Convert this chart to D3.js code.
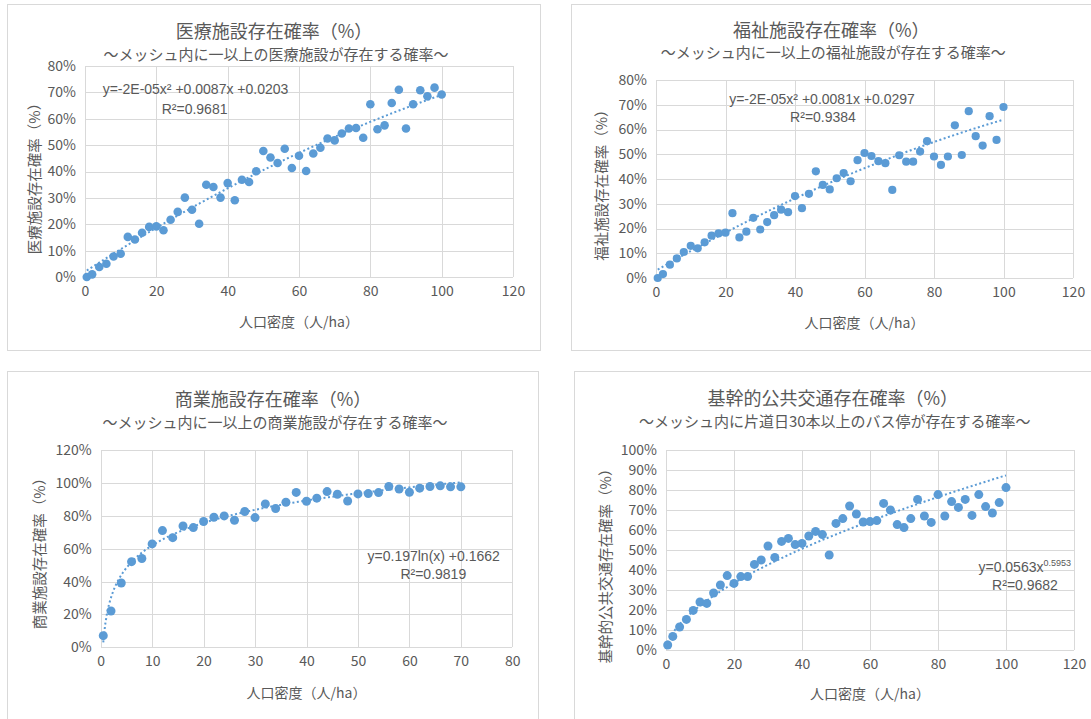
<!DOCTYPE html>
<html><head><meta charset="utf-8">
<script src="https://cdn.jsdelivr.net/npm/d3@7"></script>
<style>
html,body{margin:0;padding:0;background:#fff;}
text{font-family:"Noto Sans CJK JP","Noto Sans",sans-serif;fill:#595959;}
text.eq{font-family:"Liberation Sans","Noto Sans",sans-serif;}
</style></head>
<body>
<svg id="c" width="1091" height="719"></svg>
<script>
// ---------- DATA ----------
const medX = [0.5,2,4,6,8,10,12,14,16,18,20,22,24,26,28,30,32,34,36,38,40,42,44,46,48,50,52,54,56,58,60,62,64,66,68,70,72,74,76,78,80,82,84,86,88,90,92,94,96,98,100];
const medY = [0,1,3.8,5,7.8,8.8,15.2,14.2,16.8,19,19.2,17.7,21.7,24.7,30.1,25.5,20.2,35,34.1,30.1,35.6,29.1,36.9,36,40.1,47.8,45.3,43.2,48.6,41.3,46,40.2,46.8,49,52.5,51.8,54.4,56.3,56.5,52.8,65.5,56,57.5,66,71,56.3,65.5,70.8,68.5,71.8,69.2];
const medCoef = [-2e-5, 0.0087, 0.0203];

const welX = [0.5,2,4,6,8,10,12,14,16,18,20,22,24,26,28,30,32,34,36,38,40,42,44,46,48,50,52,54,56,58,60,62,64,66,68,70,72,74,76,78,80,82,84,86,88,90,92,94,96,98,100];
const welY = [0,1.6,5.4,7.9,10.5,13,12,14.4,17.1,18,18.3,26.2,16.4,18.7,24.3,19.6,22.6,25.4,27.6,26.6,33.1,28.2,34,43.1,37.6,35.8,40.3,42.4,39.1,47.6,50.5,49.3,47.2,46.4,35.6,49.6,47,47,51.1,55.3,49.1,45.7,49.1,61.7,49.7,67.4,57.3,53.5,65.4,55.8,69.1];
const welCoef = [-2e-5, 0.0081, 0.0297];

const comX = [0.5,2,4,6,8,10,12,14,16,18,20,22,24,26,28,30,32,34,36,38,40,42,44,46,48,50,52,54,56,58,60,62,64,66,68,70];
const comY = [7.1,22.1,39.1,52.1,54,62.9,71,66.7,73.8,72.8,76.5,79.1,79.9,77.3,82.6,78.9,87.2,84.4,88.2,94.2,88.8,90.7,94.7,93.1,89,93.3,93.5,94.1,97.8,96.3,94.3,96.8,97.8,98.2,97.6,97.6];
const comCoef = [0.197, 0.1662];

const busX = [0.5,2,4,6,8,10,12,14,16,18,20,22,24,26,28,30,32,34,36,38,40,42,44,46,48,50,52,54,56,58,60,62,64,66,68,70,72,74,76,78,80,82,84,86,88,90,92,94,96,98,100];
const busY = [2.5,6.8,11.5,15.3,19.8,24,23.3,28.5,32.5,37.2,33.3,36.7,36.7,42.8,45,52,46.3,54.3,55.8,52.7,53.3,57,59.3,57.7,47.5,63.3,65.7,72,68,64,64.2,64.7,73.3,70,62.7,61.2,65.7,75.3,67,63.8,77.7,67,74.2,71.3,75.3,67.3,77.7,71.7,68.5,73.7,81.2];
const busCoef = [0.0563, 0.5953];

const titles = ["医療施設存在確率（%）","福祉施設存在確率（%）","商業施設存在確率（%）","基幹的公共交通存在確率（%）"];
const subtitles = ["～メッシュ内に一以上の医療施設が存在する確率～","～メッシュ内に一以上の福祉施設が存在する確率～","～メッシュ内に一以上の商業施設が存在する確率～","～メッシュ内に片道日30本以上のバス停が存在する確率～"];
const yTitles = ["医療施設存在確率（%）","福祉施設存在確率（%）","商業施設存在確率（%）","基幹的公共交通存在確率（%）"];
const xTitle = "人口密度（人/ha）";
const xTicks1 = [0,20,40,60,80,100,120];
const xTicks3 = [0,10,20,30,40,50,60,70,80];
const yTicks1 = [0,10,20,30,40,50,60,70,80];
const yTicks3 = [0,20,40,60,80,100,120];
const yTicks4 = [0,10,20,30,40,50,60,70,80,90,100];
const eqTexts = [
  ["y=-2E-05x² +0.0087x +0.0203","R²=0.9681"],
  ["y=-2E-05x² +0.0081x +0.0297","R²=0.9384"],
  ["y=0.197ln(x) +0.1662","R²=0.9819"],
  ["y=0.0563x","0.5953","R²=0.9682"]
];

// ---------- TREND FUNCTIONS (from the displayed equations) ----------
const fPoly = c => x => c[0]*x*x + c[1]*x + c[2];
const fLog = c => x => c[0]*Math.log(x) + c[1];
const fPow = c => x => c[0]*Math.pow(x, c[1]);

// ---------- LAYOUT ----------
const panels = [
  {box:[7.5,4.5,533,346], plot:[85,66,513,277], xs:medX, ys:medY, xT:xTicks1, yT:yTicks1, f:fPoly(medCoef),
   title:titles[0], sub:subtitles[0], yTitle:yTitles[0], tY:30, sY:53, yTX:33, yTY:175, xTY:321,
   eq:eqTexts[0], eqPos:[[195.5,89],[194.6,108.5]], r:4.3},
  {box:[571.5,4.5,530,346], plot:[656,80,1073,278], xs:welX, ys:welY, xT:xTicks1, yT:yTicks1, f:fPoly(welCoef),
   title:titles[1], sub:subtitles[1], yTitle:yTitles[1], tY:28.5, sY:51.5, yTX:600.6, yTY:181.7, xTY:321.7,
   eq:eqTexts[1], eqPos:[[822,99],[823,117]], r:4.1},
  {box:[7.5,371.5,531,360], plot:[100.7,450,512.3,647.3], xs:comX, ys:comY, xT:xTicks3, yT:yTicks3, f:fLog(comCoef),
   title:titles[2], sub:subtitles[2], yTitle:yTitles[2], tY:398.3, sY:421.7, yTX:38.2, yTY:550, xTY:691.7,
   eq:eqTexts[2], eqPos:[[433.7,556],[433.3,574]], r:4.5},
  {box:[574.5,371.5,530,360], plot:[666,450,1074,650], xs:busX, ys:busY, xT:xTicks1, yT:yTicks4, f:fPow(busCoef),
   title:titles[3], sub:subtitles[3], yTitle:yTitles[3], tY:396.7, sY:420.7, yTX:604, yTY:562.5, xTY:693.3,
   eq:eqTexts[3], eqPos:[[1071,566.7],[1025,585]], r:4.5}
];

const svg = d3.select("#c");
svg.append("rect").attr("width",1091).attr("height",719).attr("fill","#fff");

const blue = "#5b9bd5", grid = "#d9d9d9";

panels.forEach((p,i) => {
  const g = svg.append("g");
  g.append("rect").attr("x",p.box[0]).attr("y",p.box[1]).attr("width",p.box[2]).attr("height",p.box[3])
    .attr("fill","#fff").attr("stroke","#d9d9d9").attr("stroke-width",1);
  const [L,T,R,B] = p.plot;
  const x = d3.scaleLinear().domain([0, d3.max(p.xT)]).range([L,R]);
  const y = d3.scaleLinear().domain([0, d3.max(p.yT)]).range([B,T]);

  // gridlines + axes
  const xa = d3.axisBottom(x).tickValues(p.xT).tickSize(-(B-T)).tickFormat(d=>d).tickPadding(9);
  const ya = d3.axisLeft(y).tickValues(p.yT).tickSize(-(R-L)).tickFormat(d=>d+"%").tickPadding(9);
  const gx = g.append("g").attr("transform",`translate(0,${B})`).call(xa);
  const gy = g.append("g").attr("transform",`translate(${L},0)`).call(ya);
  [gx,gy].forEach(a=>{
    a.select(".domain").remove();
    a.selectAll(".tick line").attr("stroke",grid).attr("stroke-width",1).attr("shape-rendering","crispEdges");
    a.selectAll(".tick text").attr("fill","#595959").style("font-size","14px")
      .style("font-family",'"Noto Sans CJK JP","Noto Sans",sans-serif');
  });
  gy.selectAll(".tick text").attr("x",-9);

  // trendline
  const x0 = p.xs[0], x1 = p.xs[p.xs.length-1];
  const samples = d3.range(x0, x1 + 1e-9, (x1-x0)/200);
  const line = d3.line().x(d=>x(d)).y(d=>y(p.f(d)*100));
  g.append("path").datum(samples).attr("d",line).attr("fill","none").attr("stroke",blue)
    .attr("stroke-width",2).attr("stroke-dasharray","2,2.5");

  // points
  g.append("g").selectAll("circle").data(p.xs.map((v,k)=>[v,p.ys[k]])).join("circle")
    .attr("cx",d=>x(d[0])).attr("cy",d=>y(d[1])).attr("r",p.r).attr("fill",blue);

  // titles
  const cx = (L+R)/2;
  const bw = (i%2===1 ? 1091-p.box[0] : p.box[2]);
  g.append("text").attr("x",p.box[0]+bw/2).attr("y",p.tY)
    .attr("text-anchor","middle").attr("dominant-baseline","central").style("font-size","18px").text(p.title);
  g.append("text").attr("x",p.box[0]+bw/2+2).attr("y",p.sY)
    .attr("text-anchor","middle").attr("dominant-baseline","central").style("font-size","15px").text(p.sub);
  g.append("text").attr("transform",`translate(${p.yTX},${p.yTY}) rotate(-90)`)
    .attr("text-anchor","middle").attr("dominant-baseline","central").style("font-size","14.5px").text(p.yTitle);
  g.append("text").attr("x",cx).attr("y",p.xTY)
    .attr("text-anchor","middle").attr("dominant-baseline","central").style("font-size","14px").text(xTitle);

  // equation labels
  if (i < 3) {
    g.append("text").attr("class","eq").attr("x",p.eqPos[0][0]).attr("y",p.eqPos[0][1]+5).attr("text-anchor","middle")
      .style("font-size","14px").text(p.eq[0]);
    g.append("text").attr("class","eq").attr("x",p.eqPos[1][0]).attr("y",p.eqPos[1][1]+5).attr("text-anchor","middle")
      .style("font-size","14px").text(p.eq[1]);
  } else {
    const t = g.append("text").attr("class","eq").attr("x",p.eqPos[0][0]).attr("y",p.eqPos[0][1]+5).attr("text-anchor","end")
      .style("font-size","14px");
    t.append("tspan").text(p.eq[0]);
    t.append("tspan").attr("dy",-6).style("font-size","9px").text(p.eq[1]);
    g.append("text").attr("class","eq").attr("x",p.eqPos[1][0]).attr("y",p.eqPos[1][1]+5).attr("text-anchor","middle")
      .style("font-size","14px").text(p.eq[2]);
  }
});
</script>
</body></html>
